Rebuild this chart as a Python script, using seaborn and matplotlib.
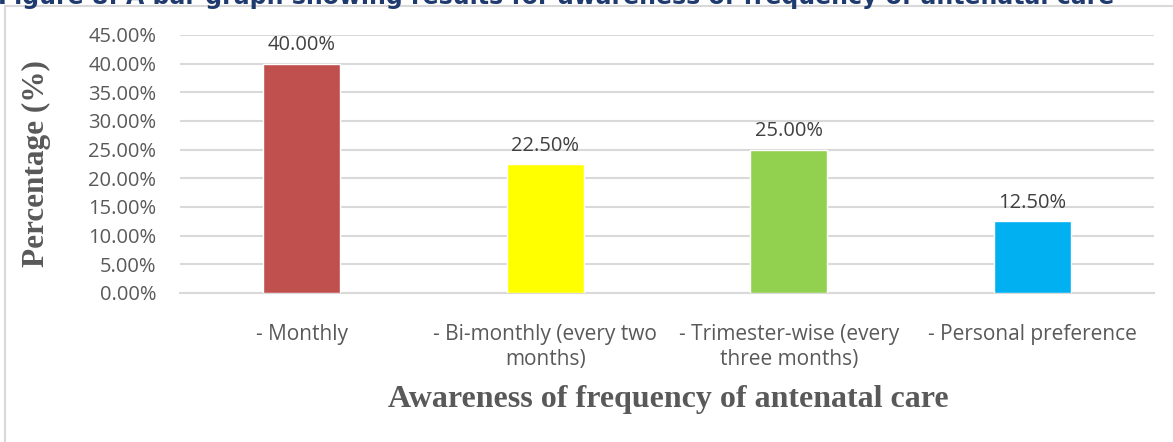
import matplotlib
matplotlib.use("Agg")
import matplotlib.pyplot as plt
import seaborn as sns
import pandas as pd
from matplotlib.patches import Rectangle
from matplotlib.ticker import PercentFormatter

# ---- data ----
categories = [
    "- Monthly",
    "- Bi-monthly (every two\nmonths)",
    "- Trimester-wise (every\nthree months)",
    "- Personal preference",
]
percentages = [40.0, 22.5, 25.0, 12.5]
bar_colors = ["#C0504D", "#FFFF00", "#92D050", "#00B0F0"]
y_ticks = [0, 5, 10, 15, 20, 25, 30, 35, 40, 45]

title_text = "Figure 8: A bar graph showing results for awareness of frequency of antenatal care"
x_label = "Awareness of frequency of antenatal care"
y_label = "Percentage (%)"

df = pd.DataFrame({"category": categories, "pct": percentages})

sns.set_theme(style="white")
plt.rcParams["font.family"] = ["Open Sans", "DejaVu Sans"]

W, H = 1173, 442
fig = plt.figure(figsize=(W / 100, H / 100), dpi=100)
fig.patch.set_facecolor("white")

# chart frame (light gray border)
fig.patches.append(Rectangle((5 / W, -0.1), 1.2, 1 - 6 / H + 0.1,
                             transform=fig.transFigure, fill=False,
                             edgecolor="#D9D9D9", linewidth=1.5, zorder=0))

ax = fig.add_axes([180 / W, 1 - 293 / H, (1154 - 180) / W, (293 - 35) / H])

sns.barplot(data=df, x="category", y="pct", hue="category",
            palette=bar_colors, dodge=False, legend=False,
            width=0.316, saturation=1, ax=ax, zorder=3)

ax.set_xlim(-0.5, 3.5)
ax.set_ylim(0, 45)
ax.set_yticks(y_ticks)
ax.yaxis.set_major_formatter(PercentFormatter(decimals=2))
ax.grid(axis="y", color="#D9D9D9", linewidth=1.5, zorder=0)
ax.set_axisbelow(True)
for s in ["top", "right", "left"]:
    ax.spines[s].set_visible(False)
ax.spines["bottom"].set_color("#D9D9D9")
ax.spines["bottom"].set_linewidth(1.5)

ax.tick_params(axis="y", length=0, pad=17, labelsize=14.5, labelcolor="#595959")
ax.tick_params(axis="x", length=0, pad=22, labelsize=15, labelcolor="#595959")
for lbl in ax.get_xticklabels():
    lbl.set_linespacing(1.3)

for container in ax.containers:
    ax.bar_label(container, labels=[f"{v:.2f}%" for v in container.datavalues],
                 padding=6, fontsize=14.5, color="#404040")

ax.set_xlabel(x_label, fontsize=23, fontweight="bold", color="#595959",
              family="Liberation Serif")
ax.xaxis.label.set_va("baseline")
ax.xaxis.set_label_coords(0.501, -0.442)

ax.set_ylabel(y_label, fontsize=22.5, fontweight="bold", color="#595959",
              family="Liberation Serif")
ax.yaxis.set_label_coords(-0.1324, 0.5)

# caption running off the top edge
fig.text(-2 / W, 1 - 4 / H, title_text, fontsize=17, fontweight="bold",
         color="#1F3A6E", family="DejaVu Sans", ha="left", va="baseline")

fig.savefig("out.png", dpi=100)
